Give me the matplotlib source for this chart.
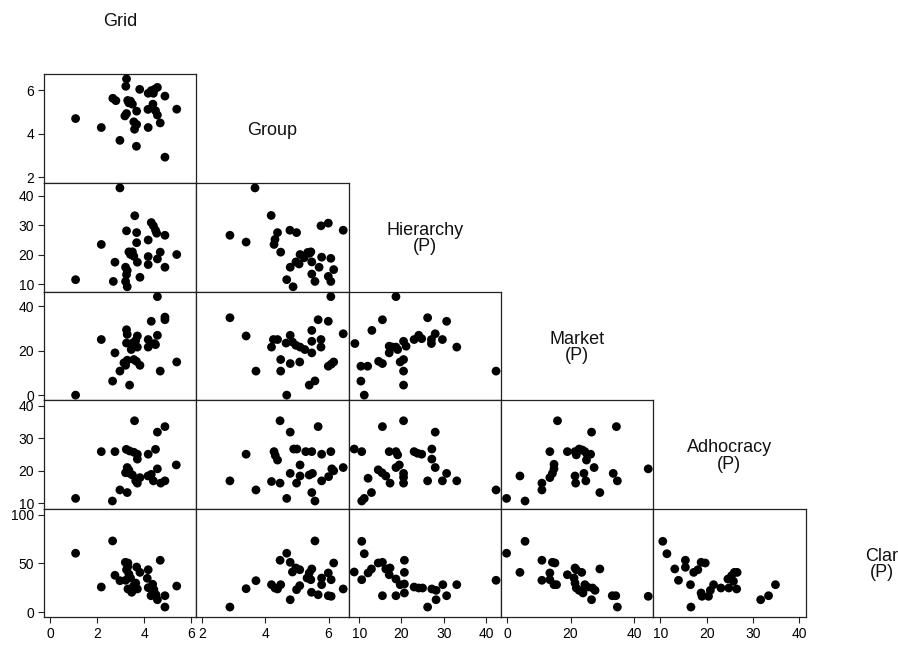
import matplotlib
matplotlib.use("Agg")
import matplotlib.pyplot as plt

plt.rcParams['font.family'] = ['Liberation Sans', 'DejaVu Sans']

# variable names on the diagonal
names = ["Grid", "Group", "Hierarchy\n(P)", "Market\n(P)", "Adhocracy\n(P)", "Clar\n(P)"]

# row 1: Group against Grid
grid_group_x = [1.09, 2.18, 2.67, 2.80, 2.97, 3.25, 3.22, 3.30, 3.42, 3.50, 3.35, 3.25, 3.18, 3.68, 3.81, 3.56, 3.68,
                3.59, 3.67, 4.16, 4.17, 4.17, 4.30, 4.39, 4.44, 4.56, 4.37, 4.48, 4.56, 4.68, 4.88, 5.38, 4.88]
grid_group_y = [4.69, 4.28, 5.62, 5.51, 3.69, 6.51, 6.17, 5.52, 5.49, 5.35, 5.41, 4.92, 4.81, 5.03, 6.03, 4.54, 4.42,
                4.20, 3.42, 5.11, 4.28, 5.85, 5.97, 5.85, 6.03, 6.12, 5.35, 5.05, 4.85, 4.49, 5.72, 5.12, 2.92]

# row 2: Hierarchy
grid_hier_x = [1.09, 2.18, 2.97, 2.69, 2.76, 3.25, 3.60, 3.68, 3.68, 3.35, 3.50, 3.42, 3.56, 3.71, 3.21, 3.28, 3.25,
               3.21, 3.28, 3.82, 4.17, 4.17, 4.17, 4.30, 4.39, 4.48, 4.53, 4.56, 4.68, 4.88, 4.88, 5.38]
grid_hier_y = [11.6, 23.5, 42.6, 11.0, 17.5, 28.1, 33.2, 27.5, 24.1, 21.0, 21.0, 20.1, 19.5, 17.5, 15.8, 14.7, 13.3,
               11.0, 9.2, 12.4, 25.0, 19.4, 16.7, 30.9, 29.8, 28.3, 27.3, 18.6, 20.9, 26.6, 15.8, 20.1]
group_hier_x = [2.89, 3.40, 3.68, 4.19, 4.39, 4.31, 4.28, 4.49, 4.78, 4.99, 4.68, 4.88, 4.79, 4.97, 5.07, 5.10, 5.23,
                5.34, 5.44, 5.47, 5.47, 5.57, 5.70, 5.78, 5.76, 5.99, 6.07, 5.99, 6.07, 6.16, 6.46, 5.40]
group_hier_y = [26.6, 24.3, 42.6, 33.3, 27.5, 25.2, 23.5, 20.9, 28.3, 27.5, 11.6, 9.2, 15.8, 17.6, 16.9, 20.1, 19.0,
                20.8, 21.0, 17.6, 13.5, 11.0, 15.8, 19.2, 29.8, 30.7, 18.8, 12.7, 11.0, 15.0, 28.3, 20.5]

# row 3: Market
grid_market_x = [1.09, 2.18, 2.76, 2.66, 2.97, 3.38, 3.25, 3.28, 3.71, 3.25, 3.50, 3.64, 3.45, 3.56, 3.71, 3.14, 3.28,
                 3.56, 3.67, 3.82, 3.21, 4.17, 4.17, 4.30, 4.44, 4.56, 4.56, 4.48, 4.68, 4.88, 4.88, 5.38]
grid_market_y = [0.0, 25.0, 19.0, 6.3, 10.8, 4.5, 29.4, 27.3, 26.6, 23.4, 23.4, 24.6, 20.5, 21.6, 21.6, 14.5, 15.7,
                 16.0, 15.2, 13.4, 13.4, 25.0, 21.6, 33.2, 23.2, 44.3, 26.9, 22.7, 10.8, 35.1, 33.9, 14.9]
group_market_x = [2.89, 3.40, 3.71, 4.20, 4.26, 4.39, 4.49, 4.49, 4.68, 4.79, 4.79, 4.86, 4.97, 5.09, 5.10, 5.25,
                  5.39, 5.47, 5.47, 5.47, 5.57, 5.67, 5.76, 5.76, 5.99, 6.07, 5.99, 6.08, 6.16, 6.46, 4.66]
group_market_y = [34.8, 26.6, 10.8, 21.6, 25.0, 25.0, 16.0, 10.8, 0.0, 26.9, 14.2, 23.9, 22.4, 14.9, 21.6, 20.5,
                  4.5, 19.0, 29.1, 24.2, 6.4, 33.9, 25.0, 21.6, 33.2, 44.3, 13.0, 13.9, 14.9, 27.6, 23.4]
hier_market_x = [8.98, 10.4, 10.4, 11.2, 12.0, 13.0, 14.6, 15.5, 15.5, 17.1, 17.1, 17.9, 18.7, 18.7, 19.1, 19.7,
                 20.5, 20.5, 20.5, 20.5, 23.0, 24.1, 24.8, 26.2, 27.1, 27.1, 28.0, 29.7, 30.7, 33.1, 42.4, 21.1]
hier_market_y = [23.2, 13.0, 6.3, 0.0, 13.0, 29.1, 15.2, 33.9, 14.2, 19.0, 22.0, 21.6, 21.6, 44.3, 20.5, 14.9,
                 16.0, 10.8, 4.5, 24.2, 25.0, 26.9, 25.4, 34.8, 25.0, 23.2, 27.6, 25.0, 33.2, 21.6, 10.8, 22.0]

# row 4: Adhocracy
grid_adhoc_x = [1.09, 2.18, 2.76, 2.65, 2.97, 3.28, 3.59, 3.24, 3.38, 3.56, 3.71, 3.71, 3.28, 3.21, 3.39, 3.50, 3.82,
                3.64, 3.71, 4.17, 4.48, 4.56, 4.88, 4.16, 4.30, 4.56, 4.39, 4.70, 4.88, 5.36, 3.35]
grid_adhoc_y = [11.5, 25.9, 25.9, 10.7, 14.1, 13.3, 35.4, 26.6, 26.1, 25.7, 25.1, 23.6, 21.0, 19.4, 19.2, 18.7, 17.9,
                16.9, 16.2, 25.1, 26.6, 31.9, 33.6, 18.4, 18.9, 20.6, 16.9, 16.2, 16.9, 21.8, 20.2]
group_adhoc_x = [2.89, 3.40, 3.71, 4.20, 4.28, 4.32, 4.39, 4.47, 4.47, 4.68, 4.79, 4.79, 4.90, 5.00, 4.99, 5.10,
                 5.10, 5.28, 5.47, 5.39, 5.49, 5.47, 5.57, 5.67, 5.78, 5.78, 6.00, 6.07, 6.10, 6.16, 6.46]
group_adhoc_y = [16.9, 25.1, 14.1, 16.7, 25.9, 24.7, 23.3, 35.4, 16.2, 11.5, 31.9, 19.2, 26.7, 26.7, 16.2, 21.8,
                 18.4, 25.9, 25.9, 18.7, 19.2, 13.3, 10.7, 33.6, 25.1, 16.9, 18.2, 25.9, 20.6, 20.0, 21.0]
hier_adhoc_x = [8.82, 10.6, 10.6, 11.2, 12.9, 12.1, 14.5, 15.4, 16.3, 15.5, 17.1, 18.7, 19.1, 18.7, 19.5, 17.3,
                20.5, 20.5, 20.5, 23.0, 23.8, 24.8, 26.2, 27.2, 27.2, 28.0, 28.0, 29.7, 30.7, 33.1, 42.4, 20.5]
hier_adhoc_y = [26.7, 25.9, 10.7, 11.5, 13.3, 17.7, 20.3, 19.4, 18.4, 33.6, 25.9, 25.9, 24.9, 21.0, 21.8, 16.2,
                35.4, 19.2, 16.2, 25.9, 25.4, 25.1, 16.9, 26.7, 23.6, 31.9, 21.0, 16.9, 19.2, 16.9, 14.1, 18.0]
market_adhoc_x = [-0.1, 4.1, 5.7, 11.0, 11.0, 13.5, 13.5, 14.3, 14.8, 14.8, 15.9, 19.0, 21.4, 21.8, 22.7, 23.7,
                  24.5, 25.3, 26.3, 25.0, 21.4, 21.6, 24.2, 24.8, 26.6, 27.4, 29.2, 33.4, 34.4, 34.7, 44.4]
market_adhoc_y = [11.5, 18.4, 10.7, 16.2, 14.1, 25.9, 17.9, 19.2, 20.6, 22.0, 35.4, 25.9, 25.9, 24.9, 26.7, 26.4,
                  25.9, 24.9, 25.1, 23.3, 18.4, 16.2, 19.2, 16.9, 31.9, 21.0, 13.3, 19.2, 33.6, 16.9, 20.6]

# row 5: Clar
grid_clar_x = [1.09, 2.66, 2.18, 2.76, 2.97, 3.20, 3.31, 3.25, 3.35, 3.21, 3.42, 3.31, 3.47, 3.54, 3.64, 3.71, 3.68,
               3.82, 4.17, 4.13, 4.17, 4.36, 4.41, 4.29, 4.50, 4.56, 4.68, 4.88, 4.88, 5.38, 3.30]
grid_clar_y = [60.5, 73.1, 25.9, 37.9, 32.4, 51.2, 50.5, 43.6, 39.2, 32.8, 35.1, 23.9, 20.5, 26.6, 30.0, 23.9, 46.4,
               40.9, 43.6, 34.8, 25.2, 28.7, 23.2, 17.0, 18.0, 12.9, 53.3, 17.0, 5.4, 26.9, 46.5]
group_clar_x = [2.89, 3.40, 3.71, 4.20, 4.31, 4.39, 4.49, 4.47, 4.68, 4.79, 4.79, 4.86, 4.97, 5.09, 4.99, 5.09,
                5.32, 5.39, 5.47, 5.44, 5.57, 5.46, 5.67, 5.78, 5.78, 5.99, 6.08, 5.99, 6.08, 6.16, 6.46]
group_clar_y = [5.4, 24.2, 32.4, 28.3, 24.9, 23.9, 28.3, 53.3, 60.5, 51.2, 12.9, 41.3, 45.4, 43.6, 23.2, 27.3,
                35.1, 40.3, 44.4, 33.4, 73.1, 20.5, 18.0, 35.1, 28.3, 40.3, 33.4, 17.0, 16.4, 50.5, 23.9]
hier_clar_x = [8.82, 10.6, 11.2, 10.6, 12.1, 12.9, 14.5, 15.5, 15.5, 16.3, 17.3, 17.1, 18.7, 18.7, 19.7, 20.7,
               20.7, 20.7, 20.7, 23.0, 24.1, 25.0, 26.2, 27.2, 28.2, 28.2, 29.8, 30.7, 33.1, 42.4]
hier_clar_y = [41.3, 72.7, 60.0, 33.4, 40.3, 44.4, 50.5, 51.2, 17.0, 44.4, 45.4, 38.5, 34.1, 17.0, 28.3, 53.3,
               40.9, 29.0, 19.8, 25.9, 24.9, 24.9, 5.4, 23.9, 22.5, 12.9, 28.3, 17.0, 28.3, 32.8]
market_clar_x = [-0.1, 4.1, 5.7, 11.0, 11.0, 13.5, 14.3, 15.1, 13.5, 14.8, 15.6, 19.0, 21.4, 21.8, 23.5, 21.1,
                 21.4, 21.8, 22.7, 23.9, 24.5, 25.3, 26.9, 27.7, 26.6, 29.2, 33.1, 34.2, 34.7, 44.4]
market_clar_y = [60.5, 40.9, 72.7, 53.3, 32.8, 40.3, 51.2, 50.5, 33.4, 28.3, 28.3, 38.5, 45.4, 43.6, 40.9, 35.1,
                 30.0, 24.9, 22.5, 19.8, 28.3, 25.9, 24.9, 22.5, 12.9, 44.4, 17.0, 17.0, 5.4, 16.4]
adhoc_clar_x = [10.5, 11.4, 13.1, 13.9, 15.4, 15.4, 16.5, 16.6, 17.2, 18.1, 18.8, 19.7, 18.8, 19.0, 20.4, 20.8,
                21.5, 23.1, 24.8, 24.6, 25.4, 26.0, 25.8, 26.5, 26.6, 31.7, 33.4, 34.9]
adhoc_clar_y = [72.7, 60.0, 44.4, 32.8, 53.3, 46.1, 28.3, 5.4, 40.9, 43.6, 51.2, 50.5, 19.8, 16.4, 16.4, 22.5,
                28.3, 24.9, 24.9, 34.1, 37.5, 40.9, 31.8, 23.9, 40.9, 12.9, 17.0, 28.3]

# axis ticks per variable (Grid, Group, Hierarchy, Market, Adhocracy, Clar)
ticks = [[0, 2, 4, 6], [2, 4, 6], [10, 20, 30, 40], [0, 20, 40], [10, 20, 30, 40], [0, 50, 100]]

# (row, col) -> (x, y)
panels = {
    (1, 0): (grid_group_x, grid_group_y),
    (2, 0): (grid_hier_x, grid_hier_y), (2, 1): (group_hier_x, group_hier_y),
    (3, 0): (grid_market_x, grid_market_y), (3, 1): (group_market_x, group_market_y),
    (3, 2): (hier_market_x, hier_market_y),
    (4, 0): (grid_adhoc_x, grid_adhoc_y), (4, 1): (group_adhoc_x, group_adhoc_y),
    (4, 2): (hier_adhoc_x, hier_adhoc_y), (4, 3): (market_adhoc_x, market_adhoc_y),
    (5, 0): (grid_clar_x, grid_clar_y), (5, 1): (group_clar_x, group_clar_y),
    (5, 2): (hier_clar_x, hier_clar_y), (5, 3): (market_clar_x, market_clar_y),
    (5, 4): (adhoc_clar_x, adhoc_clar_y),
}

xlims = [(-0.25, 6.21), (1.83, 6.63), (7.49, 43.55), (-1.88, 45.96), (8.43, 41.4)]
ylims = [None, (1.74, 6.72), (7.6, 44.3), (-2.24, 46.6), (8.33, 41.76), (-5.1, 106.1)]

W, H = 898, 645
fig = plt.figure(figsize=(W / 100, H / 100), dpi=100)
x0, cw = 44.0, 152.3
y0, rh = 74.3, 108.6

for (r, c), (xs, ys) in panels.items():
    left = x0 + c * cw
    top = y0 + (r - 1) * rh
    ax = fig.add_axes([left / W, 1 - (top + rh) / H, cw / W, rh / H])
    ax.scatter(xs, ys, s=40, color='black', edgecolors='none', zorder=3)
    ax.set_xlim(*xlims[c])
    ax.set_ylim(*ylims[r])
    for sp in ax.spines.values():
        sp.set_color('#222222')
        sp.set_linewidth(0.9)
    ax.tick_params(direction='out', length=4.5, width=0.8, color='#222222', labelsize=10, pad=2.5)
    if c == 0:
        ax.set_yticks(ticks[r])
    else:
        ax.set_yticks([])
    if r == 5:
        ax.set_xticks(ticks[c])
    else:
        ax.set_xticks([])

# names on the diagonal
for i, name in enumerate(names):
    cx = x0 + (i + 0.5) * cw
    cy = y0 + (i - 0.5) * rh + 1.5
    fig.text(cx / W, 1 - cy / H, name, ha='center', va='center', fontsize=13,
             linespacing=0.95, color='#111111')

fig.savefig("out.png", dpi=100)
